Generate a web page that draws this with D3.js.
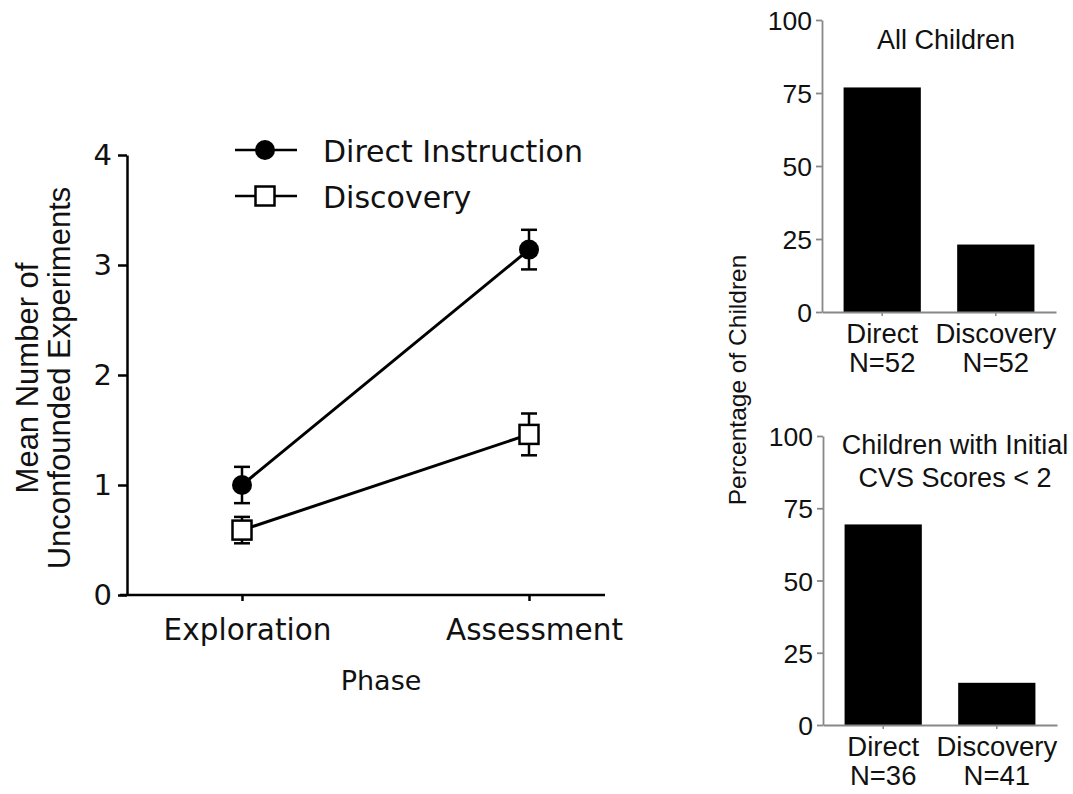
<!DOCTYPE html>
<html>
<head>
<meta charset="utf-8">
<script src="https://cdn.jsdelivr.net/npm/d3@7"></script>
<style>
  body { margin: 0; background: #fff; }
  svg { display: block; }
</style>
</head>
<body>
<svg id="chart" width="1073" height="794"></svg>
<script>
// ---- data ----
const phases = ["Exploration", "Assessment"];
const directMeans = [1.0, 3.14];
const directErr = [0.165, 0.18];
const discoveryMeans = [0.59, 1.46];
const discoveryErr = [0.12, 0.19];
const lineTicks = [0, 1, 2, 3, 4];

const groups = ["Direct", "Discovery"];
const allChildrenPct = [76.9, 23.1];
const allChildrenN = [52, 52];
const lowCvsPct = [69.4, 14.6];
const lowCvsN = [36, 41];
const pctTicks = [0, 25, 50, 75, 100];

const svg = d3.select("#chart");
const leftFont = "DejaVu Sans";
const rightFont = "Liberation Sans, Arial, sans-serif";

// ---------- left panel: line chart ----------
const xL = d3.scalePoint().domain(phases).range([242, 529]);
const yL = d3.scaleLinear().domain([0, 4]).range([595, 155]);

const left = svg.append("g");

// y axis
const yAx = left.append("g")
    .attr("transform", "translate(127,0)")
    .call(d3.axisLeft(yL).tickValues(lineTicks).tickFormat(d3.format("d"))
        .tickSize(9).tickSizeOuter(0).tickPadding(6));
yAx.select(".domain").attr("stroke", "#000").attr("stroke-width", 2.5);
yAx.selectAll(".tick line").attr("stroke", "#000").attr("stroke-width", 2.5);
yAx.selectAll(".tick text")
    .style("font-family", leftFont).style("font-size", "29px").attr("fill", "#111");

// x axis
const xAx = left.append("g")
    .attr("transform", "translate(0,595)")
    .call(d3.axisBottom(xL).tickSize(6).tickSizeOuter(0).tickPadding(18));
xAx.select(".domain").remove();
xAx.append("line").attr("x1", 120).attr("x2", 605)
    .attr("stroke", "#000").attr("stroke-width", 2.5);
xAx.selectAll(".tick line").attr("stroke", "#000").attr("stroke-width", 2.5);
xAx.selectAll(".tick text")
    .style("font-family", leftFont).style("font-size", "29.5px").attr("fill", "#111")
    .attr("dx", 5);

left.append("text")
    .attr("x", 381).attr("y", 690)
    .attr("text-anchor", "middle")
    .style("font-family", leftFont).style("font-size", "27px").attr("fill", "#111")
    .text("Phase");

const ylab = left.append("text")
    .attr("transform", "translate(0,378) rotate(-90)")
    .attr("text-anchor", "middle")
    .style("font-family", rightFont).style("font-size", "31px").attr("fill", "#111");
ylab.append("tspan").attr("x", 0).attr("y", 38).text("Mean Number of");
ylab.append("tspan").attr("x", 0).attr("y", 70).text("Unconfounded Experiments");

const series = [
  { name: "Direct Instruction", means: directMeans, err: directErr, shape: "circle" },
  { name: "Discovery", means: discoveryMeans, err: discoveryErr, shape: "square" }
];

const line = d3.line().x((d, i) => xL(phases[i])).y(d => yL(d));

series.forEach(s => {
  const g = left.append("g");
  g.append("path").datum(s.means)
      .attr("d", line).attr("fill", "none")
      .attr("stroke", "#000").attr("stroke-width", 3);

  // error bars
  const eb = g.selectAll(".eb").data(s.means).enter().append("g");
  eb.append("line")
      .attr("x1", (d, i) => xL(phases[i])).attr("x2", (d, i) => xL(phases[i]))
      .attr("y1", (d, i) => yL(d + s.err[i])).attr("y2", (d, i) => yL(d - s.err[i]))
      .attr("stroke", "#000").attr("stroke-width", 2.5);
  [1, -1].forEach(sign => {
    eb.append("line")
        .attr("x1", (d, i) => xL(phases[i]) - 8).attr("x2", (d, i) => xL(phases[i]) + 8)
        .attr("y1", (d, i) => yL(d + sign * s.err[i])).attr("y2", (d, i) => yL(d + sign * s.err[i]))
        .attr("stroke", "#000").attr("stroke-width", 2.5);
  });

  // markers
  if (s.shape === "circle") {
    g.selectAll(".m").data(s.means).enter().append("circle")
        .attr("cx", (d, i) => xL(phases[i])).attr("cy", d => yL(d))
        .attr("r", 10).attr("fill", "#000");
  } else {
    g.selectAll(".m").data(s.means).enter().append("rect")
        .attr("x", (d, i) => xL(phases[i]) - 9.5).attr("y", d => yL(d) - 9.5)
        .attr("width", 19).attr("height", 19)
        .attr("fill", "#fff").attr("stroke", "#000").attr("stroke-width", 2.5);
  }
});

// legend
const legend = left.append("g");
series.forEach((s, i) => {
  const ly = 150 + i * 46;
  legend.append("line").attr("x1", 235).attr("x2", 297).attr("y1", ly).attr("y2", ly)
      .attr("stroke", "#000").attr("stroke-width", 2.5);
  if (s.shape === "circle") {
    legend.append("circle").attr("cx", 265).attr("cy", ly).attr("r", 10).attr("fill", "#000");
  } else {
    legend.append("rect").attr("x", 255.5).attr("y", ly - 9.5).attr("width", 19).attr("height", 19)
        .attr("fill", "#fff").attr("stroke", "#000").attr("stroke-width", 2.5);
  }
  legend.append("text").attr("x", 323).attr("y", ly + 12)
      .style("font-family", leftFont).style("font-size", "30px").attr("fill", "#111")
      .text(s.name);
});

// ---------- right panels: bar charts ----------
function barPanel(opts) {
  const g = svg.append("g");
  const x = d3.scaleBand().domain(groups).range([opts.x0, opts.x1])
      .paddingInner(0.32).paddingOuter(0.19);
  const y = d3.scaleLinear().domain([0, 100]).range([opts.y0, opts.y1]);

  g.selectAll(".bar").data(opts.values).enter().append("rect")
      .attr("x", (d, i) => x(groups[i]))
      .attr("y", d => y(d))
      .attr("width", x.bandwidth())
      .attr("height", d => y(0) - y(d))
      .attr("fill", "#000");

  const ya = g.append("g").attr("transform", `translate(${opts.x0},0)`)
      .call(d3.axisLeft(y).tickValues(pctTicks).tickSize(6).tickSizeOuter(0).tickPadding(4));
  ya.select(".domain").attr("stroke", "#888").attr("stroke-width", 1.8);
  ya.selectAll(".tick line").attr("stroke", "#888").attr("stroke-width", 1.8);
  ya.selectAll(".tick text")
      .style("font-family", rightFont).style("font-size", "26.5px").attr("fill", "#111")
      .attr("dy", "0.36em");

  const xa = g.append("g").attr("transform", `translate(0,${opts.y0})`)
      .call(d3.axisBottom(x).tickSize(4).tickSizeOuter(0).tickFormat(""));
  xa.select(".domain").attr("stroke", "#888").attr("stroke-width", 1.8);
  xa.selectAll(".tick line").attr("stroke", "#888").attr("stroke-width", 1.5);

  groups.forEach((c, i) => {
    const t = g.append("text")
        .attr("text-anchor", "middle")
        .style("font-family", rightFont).style("font-size", "27.5px").attr("fill", "#111");
    t.append("tspan").attr("x", x(c) + x.bandwidth() / 2).attr("y", opts.y0 + 31).text(c);
    t.append("tspan").attr("x", x(c) + x.bandwidth() / 2).attr("y", opts.y0 + 60).text("N=" + opts.ns[i]);
  });

  const tt = g.append("text").attr("text-anchor", "middle")
      .style("font-family", rightFont).style("font-size", "27px").attr("fill", "#111");
  opts.title.forEach((line, i) => {
    tt.append("tspan").attr("x", opts.titleX).attr("y", opts.titleY + i * 33).text(line);
  });
}

barPanel({ x0: 822, x1: 1056, y0: 312, y1: 20, values: allChildrenPct, ns: allChildrenN,
           title: ["All Children"], titleX: 946, titleY: 49 });
barPanel({ x0: 823, x1: 1057, y0: 725, y1: 436, values: lowCvsPct, ns: lowCvsN,
           title: ["Children with Initial", "CVS Scores < 2"], titleX: 955, titleY: 454 });

svg.append("text")
    .attr("transform", "translate(746,380) rotate(-90)")
    .attr("text-anchor", "middle")
    .style("font-family", rightFont).style("font-size", "24.5px").attr("fill", "#111")
    .text("Percentage of Children");
</script>
</body>
</html>
